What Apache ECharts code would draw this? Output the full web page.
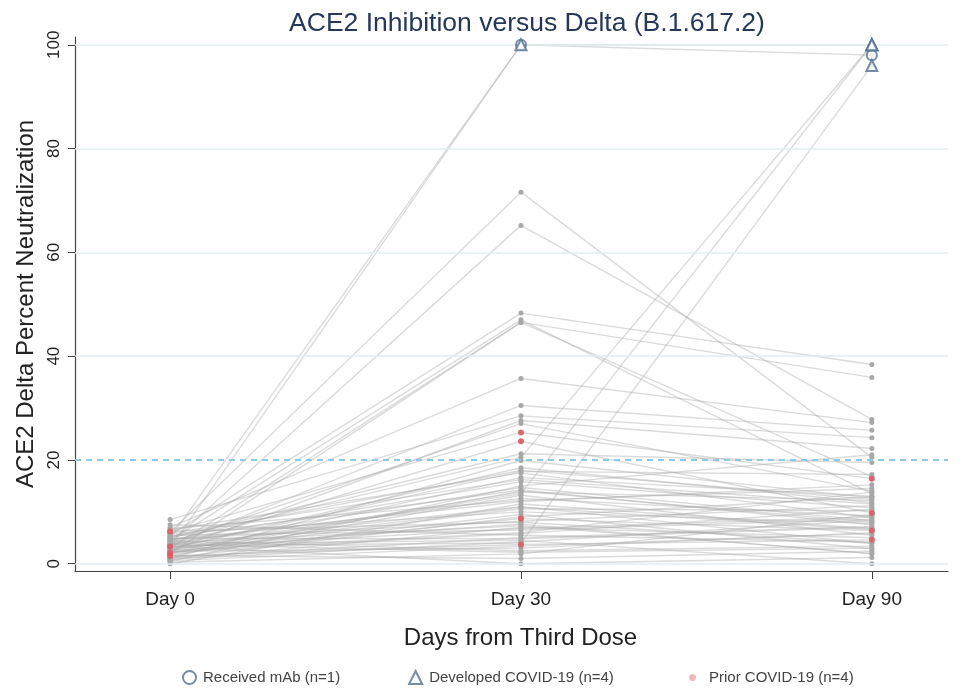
<!DOCTYPE html>
<html>
<head>
<meta charset="utf-8">
<script src="https://cdn.jsdelivr.net/npm/echarts@6/dist/echarts.min.js"></script>
<style>
html, body { margin: 0; padding: 0; background: #fff; }
#main { width: 964px; height: 690px; }
</style>
</head>
<body>
<div id="main"></div>
<script>
// tick labels for the three visits
var dayLabels = ['Day 0', 'Day 30', 'Day 90'];
var yTicks = [0, 20, 40, 60, 80, 100];

// one entry per participant (same index across the three arrays)
var day0 = [5.0, 3.0, 4.5, 2.5, 3.5, 6.0, 4.0, 5.5, 3.0, 2.0, 4.5, 7.0, 3.5, 8.5, 2.5, 4.0,
  6.2, 3.3, 5.0, 1.0, 3.0, 6.5, 2.0, 4.5, 0.5, 3.8, 5.2, 2.8, 1.5, 4.2, 6.8, 0.0,
  3.6, 2.2, 5.8, 1.8, 2.1, 4.8, 3.2, 0.8, 5.5, 2.6, 7.5, 1.2, 3.9, 1.5, 2.4, 4.4,
  0.3, 1.6, 3.4, 5.9, 2.9, 4.6, 1.1, 6.3, 3.1, 2.3, 4.9, 0.6, 3.7, 5.3, 1.9, 2.7, 4.1, 0.9];
var day30 = [100, 100, 20.5, 13.5, 4.0, 71.6, 65.2, 48.3, 46.5, 46.5, 47.0, 35.7, 30.5, 28.5, 27.6, 27.0,
  25.3, 23.6, 21.2, 19.9, 18.5, 17.5, 16.6, 15.8, 15.0, 14.7, 14.2, 13.8, 13.2, 12.6, 12.2, 11.5,
  11.0, 10.6, 10.0, 9.5, 8.7, 8.2, 7.6, 7.0, 6.5, 6.0, 5.5, 5.0, 4.5, 3.7, 3.0, 2.5,
  1.9, 1.0, 0.0, 16.2, 17.8, 12.0, 9.0, 8.0, 6.8, 5.8, 4.8, 3.4, 2.2, 18.0, 14.0, 10.9, 7.3, 4.2];
var day90 = [100, 98, 100, 100, 96, 20.5, 27.8, 38.4, 35.9, 16.8, 13.5, 27.2, 25.7, 24.3, 22.2, 14.0,
  16.4, 9.8, 19.5, 12.7, 11.8, 8.9, 13.0, 10.8, 21.0, 8.3, 7.5, 12.2, 5.5, 9.2, 14.5, 6.8,
  3.9, 10.2, 7.8, 2.9, 6.4, 11.2, 1.9, 5.0, 8.6, 13.8, 4.2, 7.2, 0.0, 4.6, 6.0, 3.4,
  9.5, 2.4, 1.2, 11.5, 17.2, 15.2, 12.9, 4.0, 9.0, 10.5, 7.0, 5.8, 3.0, 12.4, 8.0, 6.6, 2.0, 8.4];

// markers: [participant index, visit index]
var mAbMarks = [[1, 1], [1, 2]];
var covidMarks = [[0, 1], [0, 2], [2, 2], [3, 2], [4, 2]];
var priorIdx = [16, 17, 36, 45];

var visits = [day0, day30, day90];

function markPoints(list) {
  return list.map(function (m) { return [m[1], visits[m[1]][m[0]]]; });
}

window.onload = function () {
  var myChart = echarts.init(document.getElementById('main'));

  var series = [];
  // every participant: a thin grey line with grey dots
  for (var i = 0; i < day0.length; i++) {
    series.push({
      type: 'line',
      silent: true,
      symbol: 'circle',
      symbolSize: 5,
      z: 2,
      lineStyle: { color: 'rgba(170,170,170,0.42)', width: 1.4 },
      itemStyle: { color: '#a8a8a8' },
      data: [[0, day0[i]], [1, day30[i]], [2, day90[i]]]
    });
  }

  var priorPts = [];
  priorIdx.forEach(function (p) {
    for (var v = 0; v < 3; v++) priorPts.push([v, visits[v][p]]);
  });

  // reference lines
  series.push({
    type: 'line',
    silent: true,
    data: [],
    z: 1,
    markLine: {
      silent: true,
      symbol: 'none',
      label: { show: false },
      data: yTicks.map(function (t) {
        return { yAxis: t, lineStyle: t === 20 ? { color: '#8ecae6', type: [6, 5], width: 2 } : { color: '#e4eef0', type: 'solid', width: 1.5 } };
      })
    }
  });

  series.push({
    name: 'Prior COVID-19 (n=4)',
    type: 'scatter',
    symbol: 'circle',
    symbolSize: 6,
    z: 5,
    itemStyle: { color: '#e3545c' },
    data: priorPts
  });
  series.push({
    name: 'Received mAb (n=1)',
    type: 'scatter',
    symbol: 'emptyCircle',
    symbolSize: 10,
    z: 6,
    itemStyle: { color: '#52708f', borderWidth: 2 },
    data: markPoints(mAbMarks)
  });
  series.push({
    name: 'Developed COVID-19 (n=4)',
    type: 'scatter',
    symbol: 'emptyTriangle',
    symbolSize: 11,
    z: 6,
    itemStyle: { color: '#52708f', borderWidth: 2 },
    data: markPoints(covidMarks)
  });

  myChart.setOption({
    animation: false,
    title: {
      text: 'ACE2 Inhibition versus Delta (B.1.617.2)',
      left: 522,
      textAlign: 'center',
      top: 5,
      textStyle: { fontFamily: 'Liberation Sans', fontWeight: 'normal', fontSize: 26.5, color: '#26385a' }
    },
    legend: [{
      data: ['Received mAb (n=1)', 'Developed COVID-19 (n=4)'],
      left: 177,
      top: 665,
      itemGap: 68,
      itemWidth: 13,
      itemHeight: 13,
      textStyle: { fontFamily: 'Liberation Sans', fontSize: 15, color: '#444', padding: [0, 0, 0, 2] }
    }, {
      data: ['Prior COVID-19 (n=4)'],
      left: 684,
      top: 665,
      itemWidth: 7,
      itemHeight: 7,
      itemStyle: { color: '#f2a4aa' },
      textStyle: { fontFamily: 'Liberation Sans', fontSize: 15, color: '#444', padding: [0, 0, 0, 8] }
    }],
    grid: { left: 75, right: 16, top: 37, bottom: 119 },
    xAxis: {
      type: 'value',
      min: -0.271,
      max: 2.217,
      name: 'Days from Third Dose',
      nameLocation: 'middle',
      nameGap: 55,
      nameTextStyle: { fontFamily: 'Liberation Sans', fontSize: 24, color: '#222', padding: [0, 0, 0, 18] },
      axisLine: { show: true, onZero: false, lineStyle: { color: '#444', width: 1.2 } },
      axisTick: { show: true, customValues: [0, 1, 2], length: 8, lineStyle: { color: '#444' } },
      axisLabel: {
        customValues: [0, 1, 2],
        margin: 19,
        fontFamily: 'Liberation Sans', fontSize: 19, color: '#222',
        formatter: function (v) { return dayLabels[Math.round(v)]; }
      },
      splitLine: { show: false }
    },
    yAxis: {
      type: 'value',
      min: -1.4,
      max: 101.5,
      name: 'ACE2 Delta Percent Neutralization',
      nameLocation: 'middle',
      nameGap: 34,
      nameTextStyle: { fontFamily: 'Liberation Sans', fontSize: 24, color: '#222' },
      axisLine: { show: true, onZero: false, lineStyle: { color: '#444', width: 1.2 } },
      axisTick: { show: true, customValues: yTicks, length: 7, lineStyle: { color: '#444' } },
      axisLabel: {
        customValues: yTicks,
        rotate: 90,
        margin: 12,
        fontFamily: 'Liberation Sans', fontSize: 17, color: '#222'
      },
      splitLine: { show: false }
    },
    series: series
  });
};
</script>
</body>
</html>
